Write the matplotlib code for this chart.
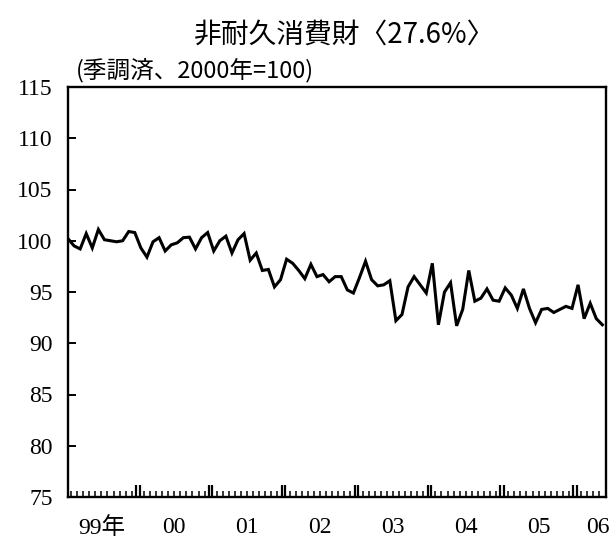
import matplotlib.pyplot as plt
import numpy as np

# monthly index, Jan 1999 = 0 ... May 2006 = 88
values = [
    100.2, 99.5, 99.2, 100.7, 99.3, 101.1, 100.1, 100.0, 99.9, 100.0, 100.9, 100.8,   # 1999
    99.3, 98.4, 99.9, 100.3, 99.0, 99.6, 99.8, 100.3, 100.35, 99.2, 100.3, 100.8,    # 2000
    99.0, 100.0, 100.45, 98.8, 100.1, 100.7, 98.1, 98.8, 97.1, 97.2, 95.5, 96.2,     # 2001
    98.2, 97.8, 97.1, 96.3, 97.7, 96.5, 96.7, 96.0, 96.5, 96.5, 95.2, 94.9,          # 2002
    96.4, 98.0, 96.2, 95.6, 95.7, 96.1, 92.2, 92.8, 95.5, 96.5, 95.7, 94.9,          # 2003
    97.8, 91.8, 95.0, 95.9, 91.7, 93.3, 97.1, 94.1, 94.4, 95.3, 94.2, 94.1,          # 2004
    95.4, 94.7, 93.4, 95.3, 93.4, 92.0, 93.3, 93.4, 93.0, 93.3, 93.6, 93.4,          # 2005
    95.7, 92.4, 93.9, 92.4, 91.8,                                                    # 2006
]
year_labels = ['99年', '00', '01', '02', '03', '04', '05', '06']
y_ticks = [75, 80, 85, 90, 95, 100, 105, 110, 115]

TITLE    = '非耐久消費財〈27.6%〉'
SUBTITLE = '(季調済、2000年=100)'
FONTS    = ['Liberation Serif', 'Noto Sans CJK JP']
CJK      = ['Noto Sans CJK JP', 'DejaVu Sans']

fig = plt.figure(figsize=(6.11, 5.47), dpi=100)
ax = fig.add_axes([68 / 611, 1 - 497 / 547, 538 / 611, 410 / 547])

x = np.arange(len(values))
ax.plot(x, values, color='black', linewidth=2.2, solid_joinstyle='miter')

ax.set_xlim(0, 88.6)
ax.set_ylim(75, 115)

# y axis: inward ticks every 5
ax.set_yticks(y_ticks)
ax.set_yticklabels([str(v) for v in y_ticks], family=FONTS, fontsize=17)
ax.tick_params(axis='y', direction='in', length=6, width=1.4, pad=11)

# x axis: monthly small ticks, double tall ticks at year boundaries
n_years = 8
bounds = [12 * k - 0.5 for k in range(1, n_years)]
months = [m + 0.5 for m in range(88) if (m + 1) % 12 != 0]
ax.set_xticks(months, minor=True)
ax.set_xticks([b + d for b in bounds for d in (-0.28, 0.28)])
ax.set_xticklabels([])
ax.tick_params(axis='x', which='minor', direction='in', length=4, width=1.1)
ax.tick_params(axis='x', which='major', direction='in', length=9, width=1.6)

label_pos = [12 * k + 5.5 for k in range(n_years)]
label_pos[-1] = 87.2
for pos, lab in zip(label_pos, year_labels):
    ax.text(pos, -0.075, lab, transform=ax.get_xaxis_transform(),
            ha='center', va='center', fontsize=17, family=FONTS)

for s in ax.spines.values():
    s.set_linewidth(1.7)

fig.text(345 / 611, 1 - 35 / 547, TITLE, ha='center', va='center',
         fontsize=20, family=CJK)
fig.text(76 / 611, 1 - 70 / 547, SUBTITLE, ha='left', va='center',
         fontsize=17, family=CJK)

fig.savefig('out.png', dpi=100)
